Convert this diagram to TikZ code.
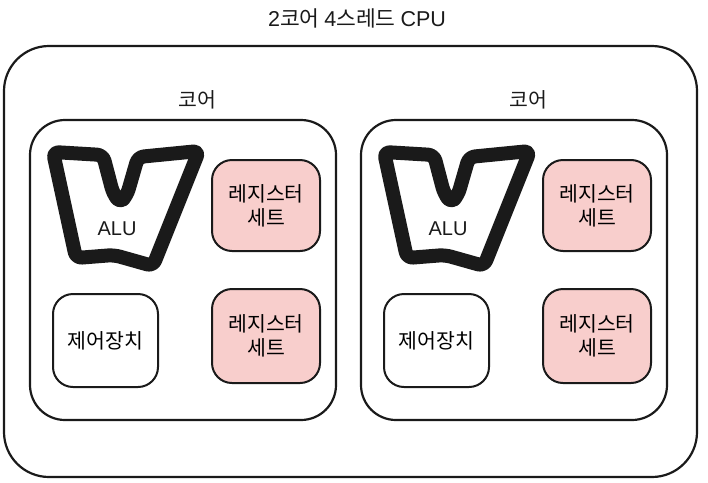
\documentclass[tikz,border=0pt]{standalone}
\usepackage{fontspec}
\setmainfont{Noto Sans CJK KR}
\newfontfamily\latin{Liberation Sans}
\usepackage{tikz}
\usetikzlibrary{positioning}
\definecolor{ink}{HTML}{1A1A1A}
\definecolor{lpink}{HTML}{F8CECC}
\tikzset{
  every picture/.style={line width=2pt,draw=ink,font=\fontsize{20.5}{24}\selectfont},
  bx/.style={draw=ink,fill=white,rounded corners=20pt,align=center,inner sep=2pt},
  bxr/.style={bx,fill=lpink},
  frame/.style={draw=ink,rounded corners=35pt,line width=2.2pt},
  alu/.style={draw=ink,line width=14pt,line join=round,rounded corners=6pt},
  lab/.style={text=ink},
}
\begin{document}
\begin{tikzpicture}[x=1pt,y=-1pt]
  \useasboundingbox (0,0) rectangle (708,482);
  % cpu
  \node[frame,rounded corners=45pt,minimum width=693pt,minimum height=431pt] (cpu) at (350.5,261.5) {};
  \node[lab,font=\fontsize{21.5}{25}\selectfont] (title) at (357,18) {{\latin 2}코어 {\latin 4}스레드 {\latin CPU}};
  % cores
  \foreach \i/\o in {1/0,2/331}{
    \node[frame,minimum width=306pt,minimum height=300pt] (core\i) at (183+\o,270) {};
    \node[lab] (corelab\i) at (197+\o,100) {코어};
    \node[bxr,minimum width=108pt,minimum height=91pt] (rega\i) at (266+\o,205.5) {레지스터\\세트};
    \node[bxr,minimum width=108pt,minimum height=94pt] (regb\i) at (266+\o,336) {레지스터\\세트};
    \node[bx,minimum width=105pt,minimum height=93pt] (cu\i) at (105.5+\o,340.5) {제어장치};
    \draw[alu] (53+\o,152) -- (103+\o,155) -- (113+\o,193) -- (120+\o,203) -- (127+\o,195) -- (138+\o,157)
      -- (199+\o,151) -- (153+\o,266) -- (114+\o,255) -- (76+\o,258) -- cycle;
    \node[lab,font=\latin\fontsize{20}{24}\selectfont] (alu\i) at (117+\o,229) {ALU};
  }
\end{tikzpicture}
\end{document}
